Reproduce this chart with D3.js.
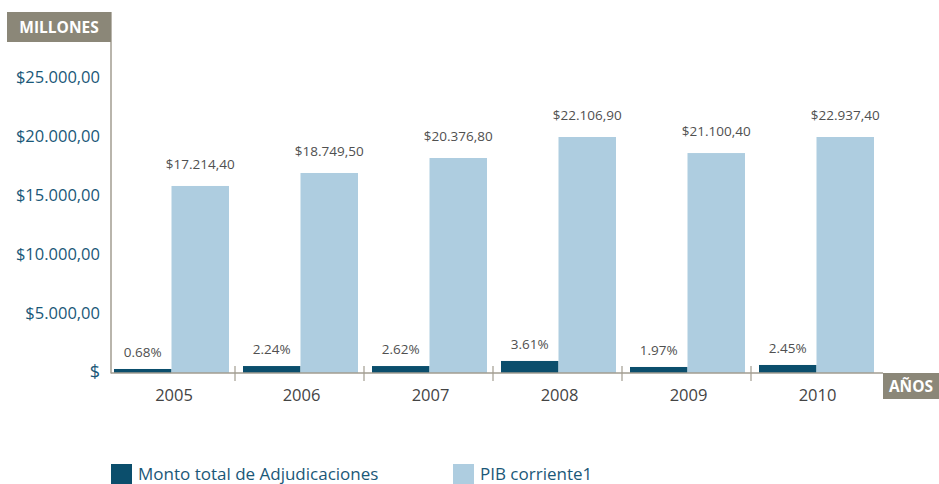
<!DOCTYPE html>
<html>
<head>
<meta charset="utf-8">
<script src="https://cdn.jsdelivr.net/npm/d3@7"></script>
<style>
  body { margin: 0; background: #fff; }
  svg { font-family: "Open Sans", "Noto Sans", sans-serif; }
</style>
</head>
<body>
<div id="chart"></div>
<script>
// data
const years = ["2005", "2006", "2007", "2008", "2009", "2010"];
const pibValues = [15850, 16950, 18220, 20000, 18640, 20000];
const pibLabels = ["$17.214,40", "$18.749,50", "$20.376,80", "$22.106,90", "$21.100,40", "$22.937,40"];
const montoValues = [340, 590, 590, 1020, 510, 680];
const montoLabels = ["0.68%", "2.24%", "2.62%", "3.61%", "1.97%", "2.45%"];
const yTicks = [0, 5000, 10000, 15000, 20000, 25000];
const yTickLabels = ["$", "$5.000,00", "$10.000,00", "$15.000,00", "$20.000,00", "$25.000,00"];
const seriesNames = ["Monto total de Adjudicaciones", "PIB corriente1"];

const width = 939, height = 484;
const darkBlue = "#0b4e6c", lightBlue = "#aecde0", boxGrey = "#8b8778", axisGrey = "#a29d90";

const svg = d3.select("#chart")
  .append("svg")
    .attr("width", width)
    .attr("height", height);

// scales
const x = d3.scaleBand()
  .domain(years)
  .range([107, 881]);

const y = d3.scaleLinear()
  .domain([0, 25000])
  .range([373, 78]);

const barW = 57.5;
const offset = 7;

// y tick labels
svg.append("g")
  .selectAll("text")
  .data(yTicks)
  .join("text")
    .attr("x", 100)
    .attr("y", d => y(d) - 1)
    .attr("dy", "0.35em")
    .style("text-anchor", "end")
    .style("font-size", (d, i) => i === 0 ? "18px" : "16.5px")
    .style("fill", "#1a5878")
    .text((d, i) => yTickLabels[i]);

// bars
svg.append("g")
  .selectAll("rect")
  .data(years)
  .join("rect")
    .attr("x", d => x(d) + offset)
    .attr("y", (d, i) => y(montoValues[i]))
    .attr("width", barW)
    .attr("height", (d, i) => y(0) - y(montoValues[i]))
    .style("fill", darkBlue);

svg.append("g")
  .selectAll("rect")
  .data(years)
  .join("rect")
    .attr("x", d => x(d) + offset + barW)
    .attr("y", (d, i) => y(pibValues[i]))
    .attr("width", barW)
    .attr("height", (d, i) => y(0) - y(pibValues[i]))
    .style("fill", lightBlue);

// value labels
svg.append("g")
  .selectAll("text")
  .data(years)
  .join("text")
    .attr("x", d => x(d) + offset + barW * 1.5)
    .attr("y", (d, i) => y(pibValues[i]) - 17)
    .style("text-anchor", "middle")
    .style("font-size", "13.5px")
    .style("fill", "#505050")
    .text((d, i) => pibLabels[i]);

svg.append("g")
  .selectAll("text")
  .data(years)
  .join("text")
    .attr("x", d => x(d) + offset + barW * 0.5)
    .attr("y", (d, i) => y(montoValues[i]) - 12)
    .style("text-anchor", "middle")
    .style("font-size", "13.5px")
    .style("fill", "#505050")
    .text((d, i) => montoLabels[i]);

// y axis line
svg.append("line")
  .attr("x1", 111).attr("x2", 111)
  .attr("y1", 12).attr("y2", 373.5)
  .style("stroke", axisGrey)
  .style("stroke-width", 1.5);

// x axis baseline + ticks
svg.append("line")
  .attr("x1", 111).attr("x2", 883)
  .attr("y1", 373).attr("y2", 373)
  .style("stroke", axisGrey)
  .style("stroke-width", 1.5);

svg.append("g")
  .selectAll("line")
  .data(years.slice(1))
  .join("line")
    .attr("x1", d => x(d) - 1).attr("x2", d => x(d) - 1)
    .attr("y1", 366).attr("y2", 381)
    .style("stroke", axisGrey)
    .style("stroke-width", 1.2);

// year labels
svg.append("g")
  .selectAll("text")
  .data(years)
  .join("text")
    .attr("x", (d, i) => i === 0 ? 174 : x(d) + x.bandwidth() / 2 + 1)
    .attr("y", 401)
    .style("text-anchor", "middle")
    .style("font-size", "16.5px")
    .style("fill", "#444")
    .text(d => d);

// MILLONES box
svg.append("rect")
  .attr("x", 7).attr("y", 12)
  .attr("width", 104).attr("height", 30)
  .style("fill", boxGrey);
svg.append("text")
  .attr("x", 59).attr("y", 33)
  .style("text-anchor", "middle")
  .style("font-size", "15.5px")
  .style("font-weight", "bold")
  .style("fill", "#fff")
  .text("MILLONES");

// AÑOS box
svg.append("rect")
  .attr("x", 883).attr("y", 373)
  .attr("width", 56).attr("height", 26)
  .style("fill", boxGrey);
svg.append("text")
  .attr("x", 911).attr("y", 392)
  .style("text-anchor", "middle")
  .style("font-size", "15.5px")
  .style("font-weight", "bold")
  .style("fill", "#fff")
  .text("AÑOS");

// legend
const legendX = [111, 453];
const legendColors = [darkBlue, lightBlue];
const legend = svg.append("g")
  .selectAll("g")
  .data(seriesNames)
  .join("g")
    .attr("transform", (d, i) => `translate(${legendX[i]}, 464)`);
legend.append("rect")
  .attr("width", 21).attr("height", 20)
  .style("fill", (d, i) => legendColors[i]);
legend.append("text")
  .attr("x", 27).attr("y", 15.5)
  .style("font-size", "17px")
  .style("fill", "#1a5878")
  .text(d => d);
</script>
</body>
</html>
